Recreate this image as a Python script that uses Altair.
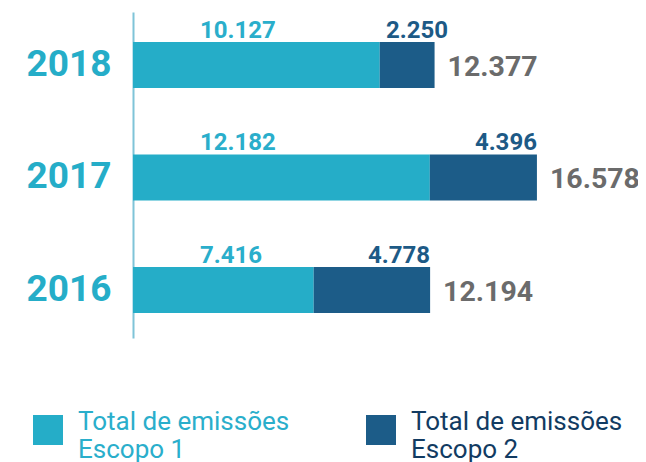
import altair as alt
import pandas as pd

# ---- data ----
years = ["2018", "2017", "2016"]
escopo1 = [10127, 12182, 7416]
escopo2 = [2250, 4396, 4778]
series = ["Escopo 1", "Escopo 2"]

light = "#25adc8"
dark = "#1c5c88"
light_txt = "#2aaecb"
dark_txt = "#1d5a86"
legend_dark_txt = "#123b62"
gray_txt = "#6b6b6b"

rows = []
for y, a, b in zip(years, escopo1, escopo2):
    rows.append({"ano": y, "serie": series[0], "valor": a, "ordem": 0})
    rows.append({"ano": y, "serie": series[1], "valor": b, "ordem": 1})
long = pd.DataFrame(rows)
wide = pd.DataFrame({"ano": years, "s1": escopo1, "s2": escopo2})

xscale = alt.Scale(domain=[0, 19700], nice=False, zero=True)
yscale = alt.Scale(paddingInner=0.591, paddingOuter=0.244, align=0.545)

yenc = alt.Y(
    "ano:N", sort=years, scale=yscale,
    axis=alt.Axis(
        title=None, ticks=False, grid=False,
        domainColor="#7fc4d8", domainWidth=2,
        labelFont="Roboto", labelFontWeight="bold", labelFontSize=37,
        labelColor=light, labelPadding=22,
    ),
)

bars = alt.Chart(long).mark_bar().encode(
    x=alt.X("valor:Q", stack="zero", scale=xscale, axis=None),
    y=yenc,
    color=alt.Color(
        "serie:N",
        scale=alt.Scale(domain=series, range=[light, dark]),
        legend=alt.Legend(
            title=None, orient="none", legendX=-100, legendY=403,
            direction="horizontal", symbolType="square", symbolSize=900,
            symbolStrokeWidth=0, symbolOpacity=1,
            labelFont="Roboto", labelFontSize=26, labelOffset=15,
            labelBaseline="alphabetic",
            labelLimit=400, columnPadding=76,
            labelExpr="['Total de emissões', datum.label]",
            labelColor=alt.ExprRef(
                f"datum.label == 'Escopo 1' ? '{light_txt}' : '{legend_dark_txt}'"
            ),
        ),
    ),
    order=alt.Order("ordem:Q"),
)

fmt = lambda f: f"replace(format({f}, ','), ',', '.')"

lab1 = alt.Chart(wide).transform_calculate(
    t=fmt("datum.s1"), x0="0"
).mark_text(
    align="left", baseline="alphabetic", dx=67, dy=-27,
    font="Roboto", fontWeight="bold", fontSize=24, color=light_txt,
).encode(x=alt.X("x0:Q", scale=xscale), y=alt.Y("ano:N", sort=years), text="t:N")

lab2 = alt.Chart(wide).transform_calculate(
    t=fmt("datum.s2"),
    xp="max(datum.s1 + datum.s2, datum.s1 + 2800)",
).mark_text(
    align="right", baseline="alphabetic", dy=-27,
    font="Roboto", fontWeight="bold", fontSize=24, color=dark_txt,
).encode(x=alt.X("xp:Q", scale=xscale), y=alt.Y("ano:N", sort=years), text="t:N")

lab3 = alt.Chart(wide).transform_calculate(
    tot="datum.s1 + datum.s2", t=fmt("datum.s1 + datum.s2")
).mark_text(
    align="left", baseline="alphabetic", dx=13, dy=11,
    font="Roboto", fontWeight="bold", fontSize=28.5, color=gray_txt,
).encode(x=alt.X("tot:Q", scale=xscale), y=alt.Y("ano:N", sort=years), text="t:N")

chart = alt.layer(bars, lab1, lab2, lab3).properties(
    width=480, height=326,
    autosize=alt.AutoSizeParams(type="none"),
    padding={"left": 125, "top": 4, "right": 25, "bottom": 124},
).configure_view(stroke=None)

chart.save("out.html", embed_options={"renderer": "svg", "actions": False})
